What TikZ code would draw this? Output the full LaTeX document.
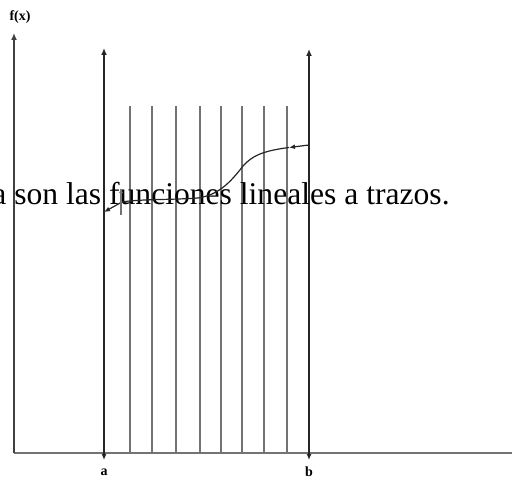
\documentclass[tikz,border=0pt]{standalone}
\usepackage{fontspec}
\setmainfont{Liberation Serif}
\usetikzlibrary{arrows.meta}

\begin{document}
\begin{tikzpicture}[
  x=0.5pt, y=-0.5pt,
  axis/.style={draw=black!55, line width=0.7pt},
  yaxis/.style={draw=black!75, line width=0.7pt, -{Latex[length=3.5pt,width=3pt]}},
  bound/.style={draw=black!85, line width=0.7pt,
                {Latex[length=3pt,width=2.5pt]}-{Latex[length=3.5pt,width=3pt]}},
  part/.style={draw=black!55, line width=0.6pt},
  func/.style={draw=black!85, line width=0.6pt},
  lbl/.style={font=\fontsize{7}{8}\selectfont\bfseries, inner sep=0pt},
  txt/.style={font=\fontsize{15.8}{19}\selectfont, inner sep=0pt}
]
\useasboundingbox (0,0) rectangle (512,480);
\clip (0,0) rectangle (512,480);

% ejes
\coordinate (O)  at (14,453);
\coordinate (Y)  at (14,33);
\coordinate (X)  at (512,453);
\draw[axis] (O) -- (X);
\draw[yaxis] (O) -- (Y);
\node[lbl] (fx) at (20,17) {f(x)};

% extremos del intervalo
\coordinate (a0) at (104,460);
\coordinate (a1) at (104,48);
\coordinate (b0) at (309,460);
\coordinate (b1) at (309,49);
\draw[bound] (a0) -- (a1);
\draw[bound] (b0) -- (b1);
\node[lbl] (a) at (104,472) {a};
\node[lbl] (b) at (309,472) {b};

% particion
\draw[part] (130,453) -- (130,106);
\draw[part] (152,453) -- (152,106);
\draw[part] (176,453) -- (176,106);
\draw[part] (200,453) -- (200,106);
\draw[part] (221,453) -- (221,106);
\draw[part] (242,453) -- (242,106);
\draw[part] (264,453) -- (264,106);
\draw[part] (287,453) -- (287,106);

% texto
\node[txt, anchor=base east] (frase) at (450,205) {a son las funciones lineales a trazos.};

% funcion
\coordinate (fb) at (309,145);
\coordinate (fm) at (289,147.5);
\coordinate (fa) at (104,212);
\draw[func, -{Latex[length=3pt,width=2.5pt]}] (fb) -- (fm);
\draw[func, -{Latex[length=3pt,width=2.5pt]}] (fm)
  .. controls (262,151) and (252,156) .. (243,166)
  .. controls (230,183) and (218,195) .. (198,198)
  .. controls (170,200) and (140,199) .. (122,202)
  -- (fa);
\draw[part, -{Latex[length=2.5pt,width=2pt]}] (121,215) -- (121,188);
\end{tikzpicture}
\end{document}
